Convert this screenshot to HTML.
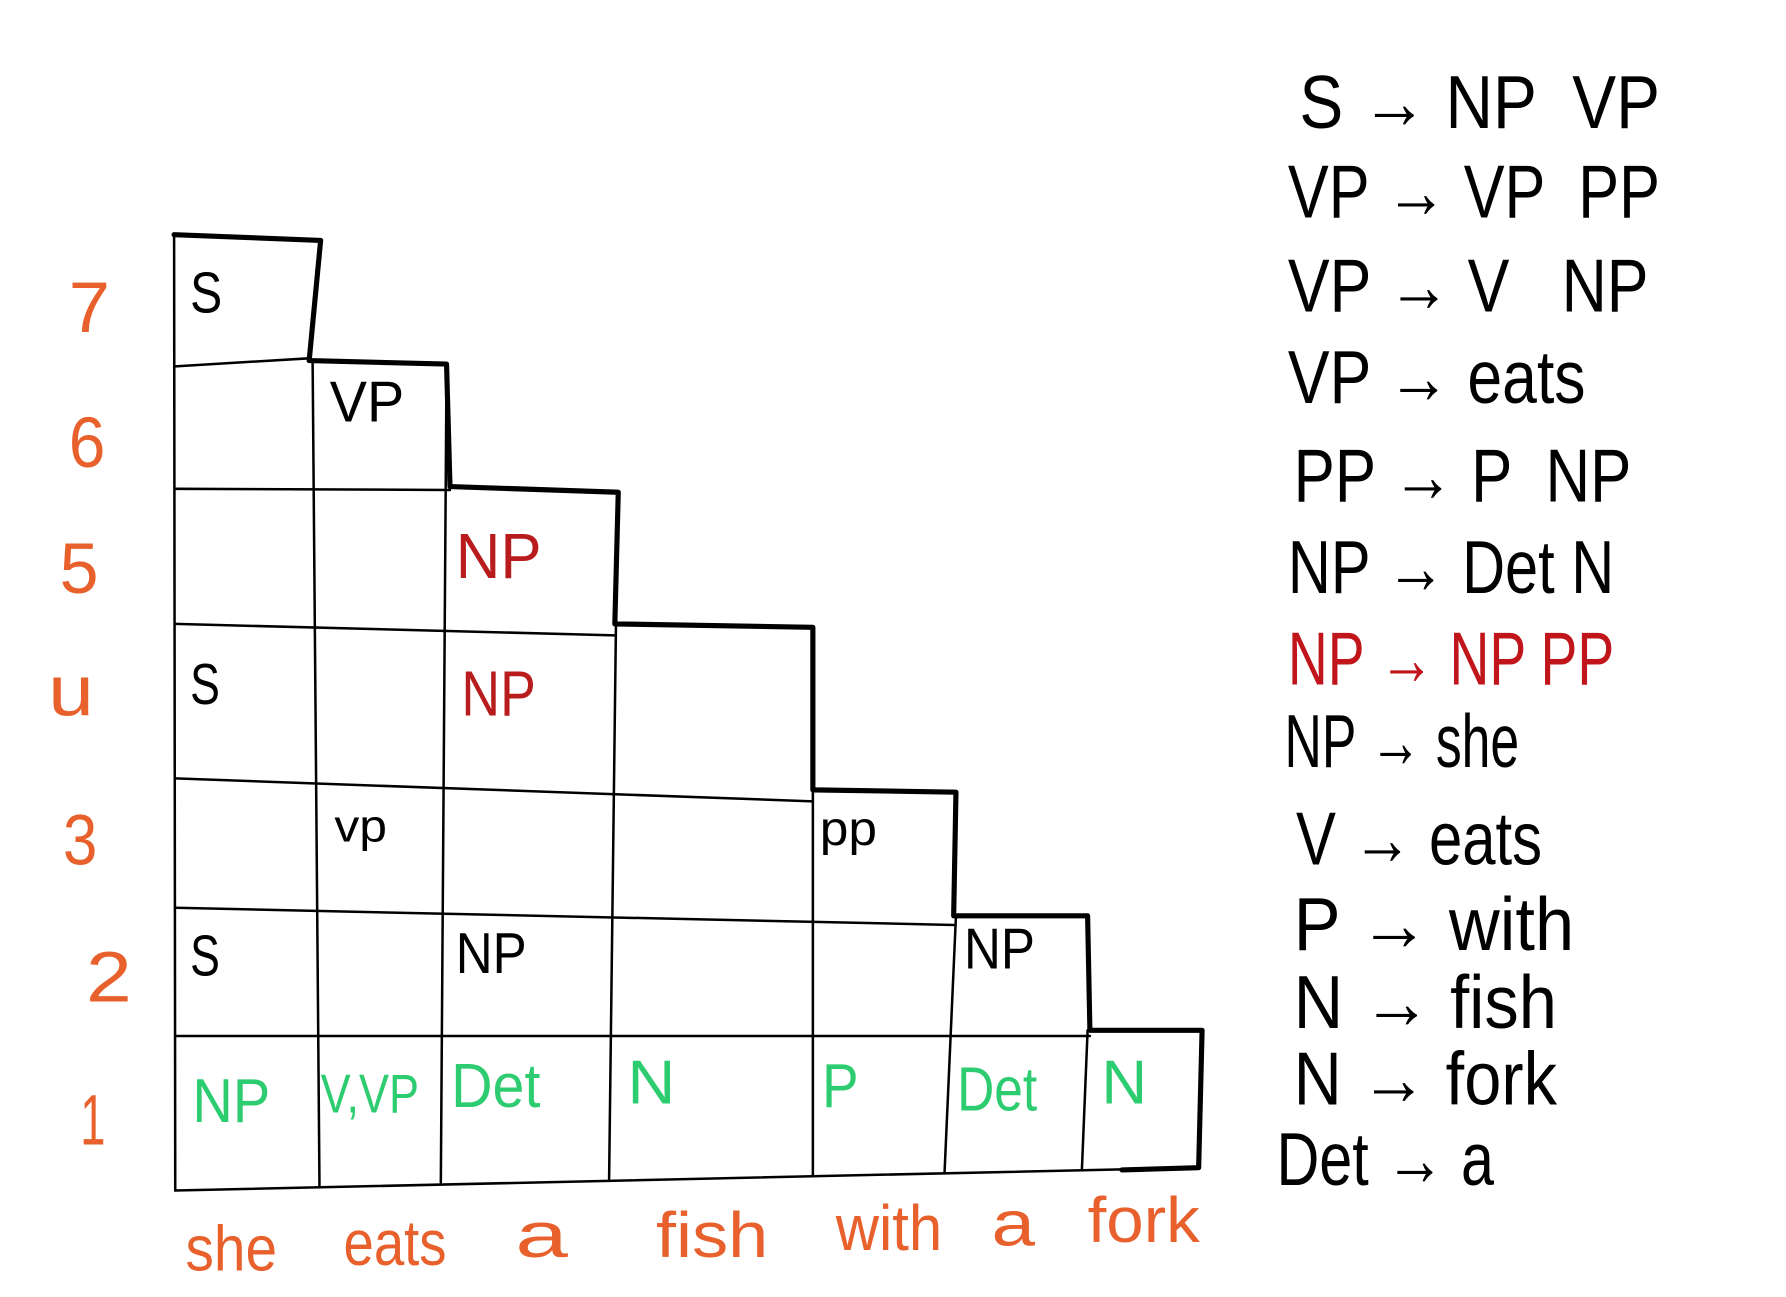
<!DOCTYPE html>
<html><head><meta charset="utf-8"><style>
html,body{margin:0;padding:0;background:#fff;}
svg{display:block;}
text{font-family:"Liberation Sans",sans-serif;}
.pre text{white-space:pre;}
</style></head><body>
<svg width="1786" height="1297" viewBox="0 0 1560 1133" xmlns="http://www.w3.org/2000/svg">
<g fill="none" stroke="#000" stroke-linecap="round" stroke-linejoin="round">
<polyline stroke-width="4.5" points="152,205 280,210 270,315 390,318 393,425 540,430 537,545 710,548 710,690 835,692 833,800 950,800 952,900 1050,900 1047,1020 980,1022"/>
<g stroke-width="2.2">
<line x1="152" y1="205" x2="153" y2="1040"/>
<line x1="153" y1="1040" x2="1047" y2="1020"/>
<line x1="153" y1="320" x2="270" y2="313"/>
<line x1="153" y1="427" x2="393" y2="428"/>
<line x1="153" y1="545" x2="537" y2="555"/>
<line x1="153" y1="680" x2="710" y2="700"/>
<line x1="153" y1="793" x2="833" y2="808"/>
<line x1="153" y1="905" x2="952" y2="905"/>
<line x1="273" y1="315" x2="279" y2="1036"/>
<line x1="390" y1="320" x2="385" y2="1033"/>
<line x1="538" y1="545" x2="532" y2="1030"/>
<line x1="710" y1="690" x2="710" y2="1027"/>
<line x1="835" y1="800" x2="825" y2="1025"/>
<line x1="950" y1="900" x2="945" y2="1022"/>
</g>
</g>
<g fill="#e8602c" font-size="62">
<text x="60" y="290" textLength="36" lengthAdjust="spacingAndGlyphs">7</text>
<text x="60" y="408" textLength="32" lengthAdjust="spacingAndGlyphs">6</text>
<text x="52" y="518" textLength="34" lengthAdjust="spacingAndGlyphs">5</text>
<text x="42" y="625" textLength="40" lengthAdjust="spacingAndGlyphs">u</text>
<text x="55" y="755" textLength="30" lengthAdjust="spacingAndGlyphs">3</text>
<text x="75" y="875" textLength="40" lengthAdjust="spacingAndGlyphs">2</text>
<text x="70" y="1000" textLength="22" lengthAdjust="spacingAndGlyphs">1</text>
</g>
<g fill="#e8602c" font-size="56">
<text x="162" y="1110" textLength="80" lengthAdjust="spacingAndGlyphs">she</text>
<text x="300" y="1105" textLength="90" lengthAdjust="spacingAndGlyphs">eats</text>
<text x="450" y="1098" textLength="46" lengthAdjust="spacingAndGlyphs">a</text>
<text x="573" y="1098" textLength="98" lengthAdjust="spacingAndGlyphs">fish</text>
<text x="730" y="1092" textLength="93" lengthAdjust="spacingAndGlyphs">with</text>
<text x="866" y="1088" textLength="38" lengthAdjust="spacingAndGlyphs">a</text>
<text x="950" y="1085" textLength="98" lengthAdjust="spacingAndGlyphs">fork</text>
</g>
<g fill="#000" font-size="50">
<text x="166" y="273" textLength="28" lengthAdjust="spacingAndGlyphs">S</text>
<text x="288" y="368" textLength="65" lengthAdjust="spacingAndGlyphs">VP</text>
<text x="166" y="615" textLength="26" lengthAdjust="spacingAndGlyphs">S</text>
<text x="292" y="735" font-size="40" textLength="46" lengthAdjust="spacingAndGlyphs">vp</text>
<text x="716" y="738" font-size="42" textLength="50" lengthAdjust="spacingAndGlyphs">pp</text>
<text x="166" y="852" textLength="26" lengthAdjust="spacingAndGlyphs">S</text>
<text x="398" y="850" textLength="62" lengthAdjust="spacingAndGlyphs">NP</text>
<text x="842" y="846" textLength="62" lengthAdjust="spacingAndGlyphs">NP</text>
</g>
<g fill="#b81c1c" font-size="56">
<text x="398" y="505" textLength="75" lengthAdjust="spacingAndGlyphs">NP</text>
<text x="403" y="625" textLength="65" lengthAdjust="spacingAndGlyphs">NP</text>
</g>
<g fill="#2ecc71" font-size="54">
<text x="168" y="980" textLength="68" lengthAdjust="spacingAndGlyphs">NP</text>
<text x="280" y="972" font-size="48" textLength="86" lengthAdjust="spacingAndGlyphs">V,VP</text>
<text x="394" y="967" textLength="78" lengthAdjust="spacingAndGlyphs">Det</text>
<text x="548" y="964" textLength="42" lengthAdjust="spacingAndGlyphs">N</text>
<text x="718" y="967" textLength="32" lengthAdjust="spacingAndGlyphs">P</text>
<text x="836" y="970" textLength="70" lengthAdjust="spacingAndGlyphs">Det</text>
<text x="962" y="964" textLength="40" lengthAdjust="spacingAndGlyphs">N</text>
</g>
<g fill="#000" font-size="66" class="pre">
<text x="1135" y="112" textLength="315" lengthAdjust="spacingAndGlyphs">S → NP  VP</text>
<text x="1125" y="190" textLength="325" lengthAdjust="spacingAndGlyphs">VP → VP  PP</text>
<text x="1125" y="272" textLength="315" lengthAdjust="spacingAndGlyphs">VP → V   NP</text>
<text x="1125" y="352" textLength="260" lengthAdjust="spacingAndGlyphs">VP → eats</text>
<text x="1130" y="438" textLength="295" lengthAdjust="spacingAndGlyphs">PP → P  NP</text>
<text x="1125" y="518" textLength="285" lengthAdjust="spacingAndGlyphs">NP → Det N</text>
<text x="1125" y="598" fill="#c0151a" textLength="285" lengthAdjust="spacingAndGlyphs">NP → NP PP</text>
<text x="1122" y="670" textLength="205" lengthAdjust="spacingAndGlyphs">NP → she</text>
<text x="1132" y="755" textLength="215" lengthAdjust="spacingAndGlyphs">V → eats</text>
<text x="1130" y="830" textLength="245" lengthAdjust="spacingAndGlyphs">P → with</text>
<text x="1130" y="898" textLength="230" lengthAdjust="spacingAndGlyphs">N → fish</text>
<text x="1130" y="965" textLength="230" lengthAdjust="spacingAndGlyphs">N → fork</text>
<text x="1115" y="1035" textLength="190" lengthAdjust="spacingAndGlyphs">Det → a</text>
</g>
</svg>
</body></html>
